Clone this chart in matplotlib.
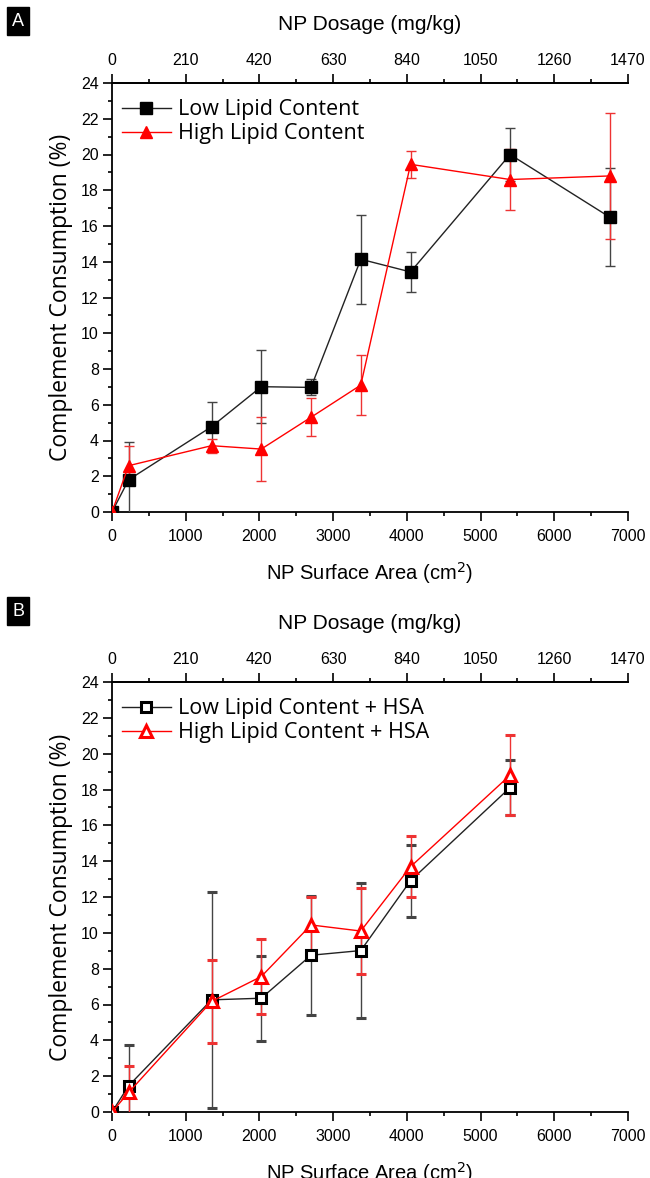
import matplotlib
matplotlib.use("Agg")
import matplotlib.pyplot as plt
from matplotlib.ticker import MultipleLocator

plt.rcParams['font.family'] = ['Liberation Sans', 'DejaVu Sans']

area = [0, 225, 1350, 2025, 2700, 3375, 4050, 5400, 6750]
areaB = [0, 225, 1350, 2025, 2700, 3375, 4050, 5400]

low = [0, 1.8, 4.77, 7.01, 6.97, 14.14, 13.43, 20.0, 16.5]
low_err = [0, 2.1, 1.37, 2.05, 0.45, 2.5, 1.14, 1.5, 2.74]
high = [0, 2.59, 3.71, 3.52, 5.3, 7.1, 19.45, 18.6, 18.8]
high_err = [0, 1.1, 0.4, 1.78, 1.05, 1.66, 0.75, 1.7, 3.5]

lowB = [0, 1.46, 6.26, 6.35, 8.75, 9.01, 12.91, 18.11]
lowB_err = [0, 2.3, 6.03, 2.37, 3.33, 3.75, 2.0, 1.52]
highB = [0, 1.09, 6.17, 7.56, 10.44, 10.1, 13.69, 18.8]
highB_err = [0, 1.5, 2.3, 2.08, 1.55, 2.4, 1.7, 2.25]

dose_per_area = 0.21

fig = plt.figure(figsize=(6.5, 11.78), dpi=100)
W, H = 650, 1178

def make_ax(top_px, bot_px):
    return fig.add_axes([112 / W, 1 - bot_px / H, (628 - 112) / W, (bot_px - top_px) / H])

axA = make_ax(83, 512)
axB = make_ax(682, 1112)

def style(ax):
    ax.set_xlim(0, 7000)
    ax.set_ylim(0, 24)
    ax.spines['right'].set_visible(False)
    for s in ['left', 'bottom', 'top']:
        ax.spines[s].set_linewidth(1.3)
    ax.xaxis.set_major_locator(MultipleLocator(1000))
    ax.xaxis.set_minor_locator(MultipleLocator(500))
    ax.yaxis.set_major_locator(MultipleLocator(2))
    ax.yaxis.set_minor_locator(MultipleLocator(1))
    ax.tick_params(which='major', direction='out', length=6.5, width=1.2, labelsize=11.5, pad=3)
    ax.tick_params(axis='x', which='major', pad=6)
    ax.tick_params(which='minor', direction='out', length=3, width=1.2)
    ax.tick_params(axis='y', which='both', right=False)
    ax.tick_params(axis='x', which='both', top=False)
    ax.set_xlabel('NP Surface Area (cm$^2$)', fontsize=14.5, labelpad=11)
    ax.set_ylabel('Complement Consumption (%)', fontsize=16.5,
                  family=['Open Sans', 'DejaVu Sans'], labelpad=6)
    sec = ax.secondary_xaxis('top', functions=(lambda a: a * dose_per_area, lambda d: d / dose_per_area))
    sec.xaxis.set_major_locator(MultipleLocator(210))
    sec.xaxis.set_minor_locator(MultipleLocator(105))
    sec.tick_params(which='major', direction='out', length=6.5, width=1.2, labelsize=11.5, pad=4)
    sec.tick_params(which='minor', direction='out', length=3, width=1.2)
    sec.spines['top'].set_linewidth(1.3)
    sec.set_xlabel('NP Dosage (mg/kg)', fontsize=15, labelpad=17)
    return sec

style(axA)
style(axB)

axA.errorbar(area, low, yerr=low_err, color='#222222', ecolor='#444444', lw=1.0, elinewidth=1.0,
             capsize=3.5, capthick=1.0, marker='s', ms=8, mfc='black', mec='black',
             label='Low Lipid Content', zorder=3)
axA.errorbar(area, high, yerr=high_err, color='#ff0000', ecolor='#ee3333', lw=1.0, elinewidth=1.0,
             capsize=3.5, capthick=1.0, marker='^', ms=9, mfc='#ff0000', mec='#ff0000',
             label='High Lipid Content', zorder=3)

axB.errorbar(areaB, lowB, yerr=lowB_err, color='#222222', ecolor='#444444', lw=1.0, elinewidth=1.0,
             capsize=3.5, capthick=1.0, marker='s', ms=7, mfc='white', mec='black', mew=2.2,
             label='Low Lipid Content + HSA', zorder=3)
axB.errorbar(areaB, highB, yerr=highB_err, color='#ff0000', ecolor='#ee3333', lw=1.0, elinewidth=1.0,
             capsize=3.5, capthick=1.0, marker='^', ms=9, mfc='white', mec='#ff0000', mew=2.2,
             label='High Lipid Content + HSA', zorder=3)

for ax in (axA, axB):
    handles, labels = ax.get_legend_handles_labels()
    handles = [h[0] for h in handles]
    ax.legend(handles, labels, loc='upper left', bbox_to_anchor=(0.0, 0.985), frameon=False,
              prop={'family': ['Open Sans', 'DejaVu Sans'], 'size': 15.5},
              handlelength=2.3, borderaxespad=0.15, labelspacing=0.15, handletextpad=0.3,
              borderpad=0.3)

for lab, ypx in (('A', 10), ('B', 600)):
    fig.text(18 / W, 1 - (ypx + 11) / H, lab, color='white', fontsize=13, ha='center', va='center',
             bbox=dict(boxstyle='square,pad=0.3', fc='black', ec='black'))

fig.savefig('out.png', dpi=100)
